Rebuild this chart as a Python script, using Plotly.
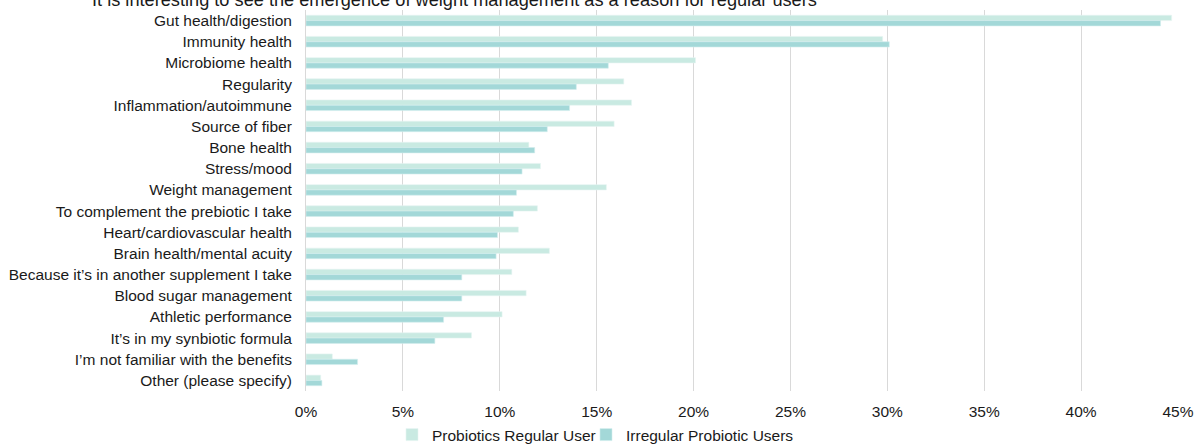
import plotly.graph_objects as go

categories = [
    "Gut health/digestion",
    "Immunity health",
    "Microbiome health",
    "Regularity",
    "Inflammation/autoimmune",
    "Source of fiber",
    "Bone health",
    "Stress/mood",
    "Weight management",
    "To complement the prebiotic I take",
    "Heart/cardiovascular health",
    "Brain health/mental acuity",
    "Because it\u2019s in another supplement I take",
    "Blood sugar management",
    "Athletic performance",
    "It\u2019s in my synbiotic formula",
    "I\u2019m not familiar with the benefits",
    "Other (please specify)",
]

regular_users = [0.4467, 0.2976, 0.201, 0.164, 0.168, 0.159, 0.115, 0.121, 0.155,
                 0.1194, 0.1096, 0.1256, 0.1062, 0.1136, 0.1012, 0.0854, 0.0136, 0.0076]
irregular_users = [0.441, 0.301, 0.156, 0.1395, 0.136, 0.1245, 0.118, 0.1115, 0.1086,
                   0.107, 0.0988, 0.0981, 0.0804, 0.0804, 0.071, 0.0665, 0.0266, 0.0082]

series_names = ["Probiotics Regular User", "Irregular Probiotic Users"]
tick_values = [0, 0.05, 0.10, 0.15, 0.20, 0.25, 0.30, 0.35, 0.40, 0.45]
tick_labels = ["0%", "5%", "10%", "15%", "20%", "25%", "30%", "35%", "40%", "45%"]
title_text = "It is interesting to see the emergence of weight management as a reason for regular users"

FONT = "Liberation Sans, Arial, sans-serif"
W, H = 1196, 444
L, R, T, B = 306, 18, 9.5, 52.5
FS = 15.5

fig = go.Figure()
fig.add_trace(go.Bar(
    y=categories, x=regular_users, orientation="h", name=series_names[0],
    marker=dict(color="#C9EAE2", line=dict(color="#E6F5F2", width=0.6)),
    legend="legend",
))
fig.add_trace(go.Bar(
    y=categories, x=irregular_users, orientation="h", name=series_names[1],
    marker=dict(color="#A3D8D8", line=dict(color="#D3EEEE", width=0.6)),
    legend="legend2",
))

plot_h = H - T - B
title_y = (H - B - (-1)) / plot_h

fig.add_annotation(
    text=title_text, xref="paper", yref="paper",
    x=(454 - L) / (W - L - R), y=title_y, xanchor="center", yanchor="middle",
    showarrow=False, font=dict(family=FONT, size=18.2, color="#1a1a1a"),
)

legend_common = dict(
    orientation="h", xref="container", yref="container",
    y=(H - 435) / H, xanchor="left", yanchor="middle",
    font=dict(family=FONT, size=FS, color="#1a1a1a"),
    bgcolor="rgba(0,0,0,0)", borderwidth=0,
)

fig.update_layout(
    width=W, height=H,
    margin=dict(l=L, r=R, t=T, b=B, pad=0, autoexpand=False),
    paper_bgcolor="white", plot_bgcolor="white",
    barmode="group", bargap=0.5, bargroupgap=0,
    font=dict(family=FONT, size=FS, color="#1a1a1a"),
    showlegend=True,
    legend=dict(x=392 / W, **legend_common),
    legend2=dict(x=586 / W, **legend_common),
    xaxis=dict(
        range=[0, 0.45], tickvals=tick_values, ticktext=tick_labels,
        showgrid=True, gridcolor="#D9D9D9", gridwidth=1,
        zeroline=False, showline=False, automargin=False,
        ticks="outside", ticklen=6, tickcolor="rgba(0,0,0,0)",
        tickfont=dict(family=FONT, size=FS, color="#1a1a1a"),
        fixedrange=True,
    ),
    yaxis=dict(
        autorange="reversed", showgrid=False, zeroline=False,
        showline=True, linecolor="#D9D9D9", linewidth=1, automargin=False,
        ticks="", ticklabelstandoff=10,
        tickfont=dict(family=FONT, size=FS, color="#1a1a1a"),
        fixedrange=True,
    ),
)

fig.write_html("out.html")
